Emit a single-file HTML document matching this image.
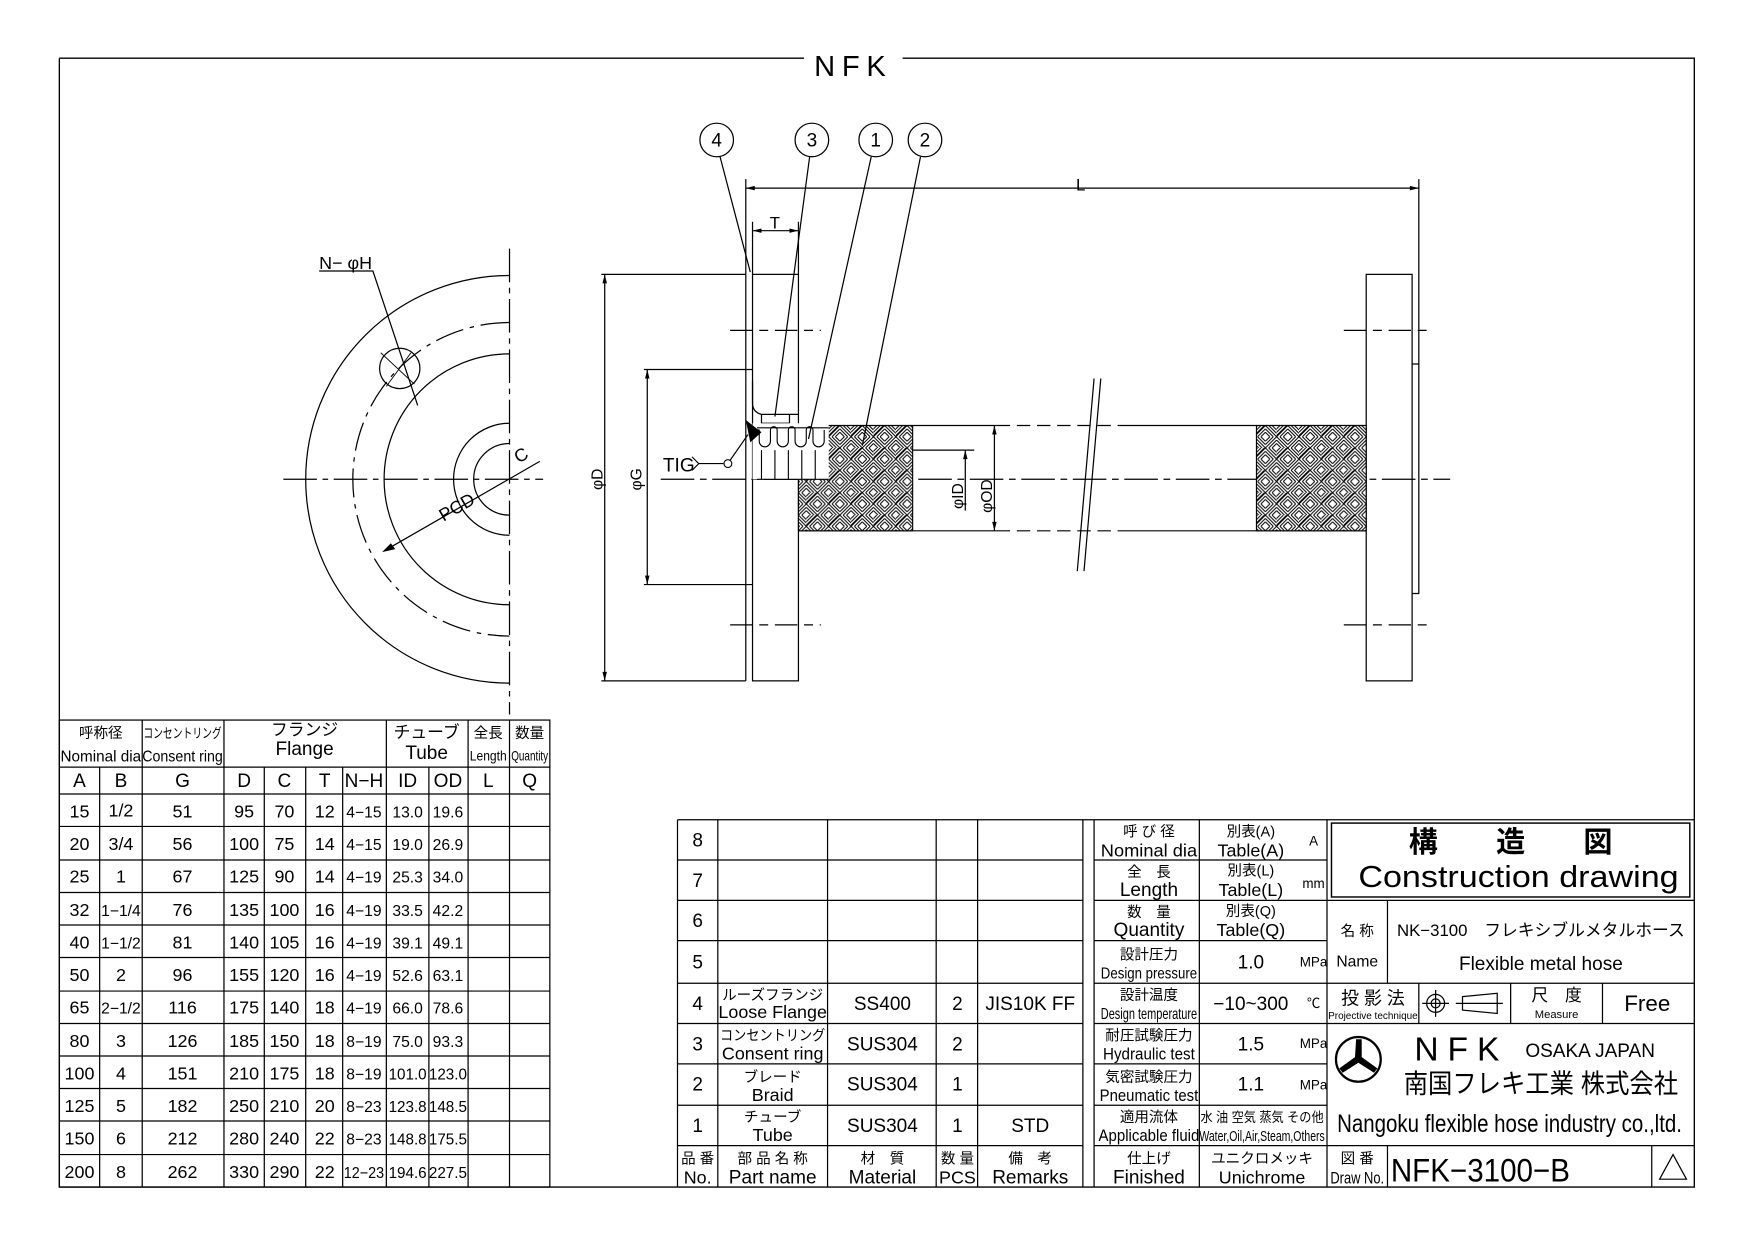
<!DOCTYPE html>
<html><head><meta charset="utf-8">
<style>
html,body{margin:0;padding:0;background:#fff;}
svg{display:block;}
text{font-family:"Liberation Sans Narrow","Liberation Sans","Noto Sans CJK JP",sans-serif;fill:#000;}
</style></head>
<body>
<svg width="1755" height="1240" viewBox="0 0 1567.2 1107.3" preserveAspectRatio="none" xmlns="http://www.w3.org/2000/svg">
<defs>
<pattern id="hb" width="20" height="20" patternUnits="userSpaceOnUse">
<rect width="20" height="20" fill="#fff"/>
<g stroke="#000" stroke-width="0.9">
<path d="M0,3 L3,0 M0,6 L6,0 M0,9 L9,0 M0,10 L10,0 M3,10 L10,3 M6,10 L10,6"/>
<path d="M10,0 L20,10 M13,0 L20,7 M16,0 L20,4 M10,3 L17,10 M10,6 L14,10"/>
<path d="M0,10 L10,20 M3,10 L10,17 M6,10 L10,14 M0,13 L7,20 M0,16 L4,20"/>
<path d="M10,20 L20,10 M13,20 L20,13 M16,20 L20,16 M10,17 L17,10 M10,14 L14,10"/>
</g>
</pattern>
</defs>
<g fill="none" stroke="#000" stroke-width="1.2">
<path d="M53,52 H718 M806,52 H1513 V1060 H53 V52"/>
</g>
<text x="762" y="68" font-size="26" text-anchor="middle" letter-spacing="6">NFK</text>

<g fill="none" stroke="#000" stroke-width="1.1">
<path d="M455,246 A182,182 0 0 0 455,610"/>
<path d="M455,288 A140,140 0 0 0 455,568" stroke-dasharray="26,6,4,6"/>
<path d="M455,316 A112,112 0 0 0 455,540"/>
<path d="M455,378 A50,50 0 0 0 455,478"/>
<path d="M455,396 A32,32 0 0 0 455,460"/>
<circle cx="357" cy="329" r="18"/>
<path d="M455,222 V638" stroke-dasharray="30,5,5,5"/>
<path d="M253,428 H485" stroke-dasharray="30,5,5,5"/>
<path d="M285,242 H333 L373,362"/>
<path d="M343,492 L482,412"/>
<path d="M343,492 l9,-2 l-3,-4 z" fill="#000"/>
<path d="M340,315 l30,28 M345,345 l22,-30" stroke-width="0.8"/>
</g>
<text x="285" y="240" font-size="16">N− φH</text>
<text x="396" y="466" font-size="16" transform="rotate(-30 396 466)">PCD</text>
<text x="463" y="414" font-size="16" transform="rotate(-30 463 414)">C</text>

<g fill="none" stroke="#000" stroke-width="1.1">
<rect x="672" y="245" width="41" height="363"/>
<path d="M666,160 V608"/>
<path d="M666,330 H672 M666,522 H672"/>
<path d="M672,340 V360 Q672,368 680,370 H713 M680,370 V378 H705 M705,370 V378"/>
<path d="M537,245 H666 M537,608 H666 M540,245 V608"/>
<path d="M575,330 H666 M575,522 H666 M578,330 V522"/>
<path d="M672,198 V245 M713,198 V245 M672,206 H713"/>
<path d="M666,168 H1267 M1267,160 V325"/>
<path d="M652,295 H733 M652,558 H733 M1200,295 H1280 M1200,558 H1280" stroke-dasharray="20,6,8,6"/>
<path d="M713,380 H890 M713,474 H890 M1000,380 H1220 M1000,474 H1220"/>
<path d="M890,380 H1000 M890,474 H1000" stroke-dasharray="12,6"/>
<path d="M590,428 H1295" stroke-dasharray="30,5,6,5"/>
<path d="M735,402 H870"/>
<path d="M862,402 V456 M888,380 V474"/>
<path d="M977,338 L962,510 M983,338 L968,510"/>
<rect x="1220" y="245" width="41" height="363"/>
<path d="M1261,325 H1267 V530 H1261"/>
</g>
<g fill="#000">
<path d="M540,245 l-2,8 h4 z M540,608 l-2,-8 h4 z M578,330 l-2,8 h4 z M578,522 l-2,-8 h4 z"/>
<path d="M672,206 l8,-2 v4 z M713,206 l-8,-2 v4 z M666,168 l8,-2 v4 z M1267,168 l-8,-2 v4 z"/>
<path d="M862,402 l-2,8 h4 z M888,380 l-2,8 h4 z M888,474 l-2,-8 h4 z"/>
</g>
<path d="M740,380 H815 V474 H713 V428 Q722,405 740,380 Z" fill="url(#hb)" stroke="#000" stroke-width="1"/>
<rect x="1122" y="380" width="98" height="94" fill="url(#hb)" stroke="#000" stroke-width="1"/>
<rect x="672" y="378" width="68" height="50" fill="#fff"/>
<path d="M676,382 H740 M676,384 a5,5 0 0 1 2,0 v10 a5,5 0 0 0 10,0 v-10 a3,3 0 0 1 6,0 v10 a5,5 0 0 0 10,0 v-10 a3,3 0 0 1 6,0 v10 a5,5 0 0 0 10,0 v-10 a3,3 0 0 1 6,0 v10 a5,5 0 0 0 10,0 v-10 M676,428 H740 M680,402 V428 M692,402 V428 M704,402 V428 M716,402 V428 M728,402 V428" fill="none" stroke="#000" stroke-width="1"/>
<path d="M666,375 L680,386 L670,395 Z" fill="#000"/>
<g fill="none" stroke="#000" stroke-width="1">
<path d="M618,408 L624,414 L618,420 M624,414 H646"/>
<circle cx="650" cy="414" r="3.5"/>
<path d="M652,411 L668,388"/>
</g>
<text x="592" y="421" font-size="17">TIG</text>
<g fill="none" stroke="#000" stroke-width="1.1">
<circle cx="640" cy="125" r="15"/><circle cx="725" cy="125" r="15"/>
<circle cx="782" cy="125" r="15"/><circle cx="826" cy="125" r="15"/>
<path d="M643,140 L670,243 M723,140 L692,372 M778,140 L722,392 M822,140 L770,398"/>
</g>
<g font-size="17" text-anchor="middle">
<text x="640" y="131">4</text><text x="725" y="131">3</text><text x="782" y="131">1</text><text x="826" y="131">2</text>
</g>
<text x="692" y="204" font-size="15" text-anchor="middle">T</text>
<text x="965" y="170" font-size="15" text-anchor="middle">L</text>
<text x="538" y="428" font-size="14" text-anchor="middle" transform="rotate(-90 538 428)">φD</text>
<text x="573" y="428" font-size="14" text-anchor="middle" transform="rotate(-90 573 428)">φG</text>
<text x="860" y="443" font-size="14" text-anchor="middle" transform="rotate(-90 860 443)">φID</text>
<text x="886" y="443" font-size="14" text-anchor="middle" transform="rotate(-90 886 443)">φOD</text>

<g fill="none" stroke="#000" stroke-width="1.1">
<rect x="53" y="643" width="438" height="417"/>
<path d="M53,685 H491 M53,709 H491 M53,738 H491 M53,768 H491 M53,797 H491 M53,826 H491 M53,855 H491 M53,885 H491 M53,914 H491 M53,943 H491 M53,972 H491 M53,1001 H491 M53,1031 H491"/>
<path d="M89,685 V1060 M127,643 V1060 M200,643 V1060 M236,685 V1060 M273,685 V1060 M306,685 V1060 M345,643 V1060 M383,685 V1060 M418,643 V1060 M455,643 V1060"/>
</g>
<g text-anchor="middle">
<text x="90" y="659" font-size="13">呼称径</text>
<text x="90" y="680" font-size="14" textLength="72" lengthAdjust="spacingAndGlyphs">Nominal dia</text>
<text x="163" y="659" font-size="12" textLength="70" lengthAdjust="spacingAndGlyphs">コンセントリング</text>
<text x="163" y="680" font-size="14" textLength="72" lengthAdjust="spacingAndGlyphs">Consent ring</text>
<text x="272" y="657" font-size="15">フランジ</text>
<text x="272" y="674" font-size="17">Flange</text>
<text x="381" y="659" font-size="15">チューブ</text>
<text x="381" y="678" font-size="17">Tube</text>
<text x="436" y="659" font-size="13">全長</text>
<text x="436" y="679" font-size="12" textLength="33" lengthAdjust="spacingAndGlyphs">Length</text>
<text x="473" y="659" font-size="13">数量</text>
<text x="473" y="679" font-size="12" textLength="33" lengthAdjust="spacingAndGlyphs">Quantity</text>
</g>
<g text-anchor="middle" font-size="17">
<text x="71" y="703">A</text><text x="108" y="703">B</text><text x="163" y="703">G</text><text x="218" y="703">D</text><text x="254" y="703">C</text><text x="290" y="703">T</text><text x="325" y="703">N−H</text><text x="364" y="703">ID</text><text x="400" y="703">OD</text><text x="436" y="703">L</text><text x="473" y="703">Q</text>
</g>
<g text-anchor="middle" font-size="16">
<text x="71" y="730">15</text><text x="108" y="729">1/2</text><text x="163" y="730">51</text><text x="218" y="730">95</text><text x="254" y="730">70</text><text x="290" y="730">12</text><text x="325" y="730" font-size="14">4−15</text><text x="364" y="730" font-size="14">13.0</text><text x="400" y="730" font-size="14">19.6</text>
<text x="71" y="759">20</text><text x="108" y="759">3/4</text><text x="163" y="759">56</text><text x="218" y="759">100</text><text x="254" y="759">75</text><text x="290" y="759">14</text><text x="325" y="759" font-size="14">4−15</text><text x="364" y="759" font-size="14">19.0</text><text x="400" y="759" font-size="14">26.9</text>
<text x="71" y="788">25</text><text x="108" y="788">1</text><text x="163" y="788">67</text><text x="218" y="788">125</text><text x="254" y="788">90</text><text x="290" y="788">14</text><text x="325" y="788" font-size="14">4−19</text><text x="364" y="788" font-size="14">25.3</text><text x="400" y="788" font-size="14">34.0</text>
<text x="71" y="818">32</text><text x="108" y="818" font-size="14">1−1/4</text><text x="163" y="818">76</text><text x="218" y="818">135</text><text x="254" y="818">100</text><text x="290" y="818">16</text><text x="325" y="818" font-size="14">4−19</text><text x="364" y="818" font-size="14">33.5</text><text x="400" y="818" font-size="14">42.2</text>
<text x="71" y="847">40</text><text x="108" y="847" font-size="14">1−1/2</text><text x="163" y="847">81</text><text x="218" y="847">140</text><text x="254" y="847">105</text><text x="290" y="847">16</text><text x="325" y="847" font-size="14">4−19</text><text x="364" y="847" font-size="14">39.1</text><text x="400" y="847" font-size="14">49.1</text>
<text x="71" y="876">50</text><text x="108" y="876">2</text><text x="163" y="876">96</text><text x="218" y="876">155</text><text x="254" y="876">120</text><text x="290" y="876">16</text><text x="325" y="876" font-size="14">4−19</text><text x="364" y="876" font-size="14">52.6</text><text x="400" y="876" font-size="14">63.1</text>
<text x="71" y="905">65</text><text x="108" y="905" font-size="14">2−1/2</text><text x="163" y="905">116</text><text x="218" y="905">175</text><text x="254" y="905">140</text><text x="290" y="905">18</text><text x="325" y="905" font-size="14">4−19</text><text x="364" y="905" font-size="14">66.0</text><text x="400" y="905" font-size="14">78.6</text>
<text x="71" y="935">80</text><text x="108" y="935">3</text><text x="163" y="935">126</text><text x="218" y="935">185</text><text x="254" y="935">150</text><text x="290" y="935">18</text><text x="325" y="935" font-size="14">8−19</text><text x="364" y="935" font-size="14">75.0</text><text x="400" y="935" font-size="14">93.3</text>
<text x="71" y="964">100</text><text x="108" y="964">4</text><text x="163" y="964">151</text><text x="218" y="964">210</text><text x="254" y="964">175</text><text x="290" y="964">18</text><text x="325" y="964" font-size="14">8−19</text><text x="364" y="964" font-size="14" textLength="34" lengthAdjust="spacingAndGlyphs">101.0</text><text x="400" y="964" font-size="14" textLength="34" lengthAdjust="spacingAndGlyphs">123.0</text>
<text x="71" y="993">125</text><text x="108" y="993">5</text><text x="163" y="993">182</text><text x="218" y="993">250</text><text x="254" y="993">210</text><text x="290" y="993">20</text><text x="325" y="993" font-size="14">8−23</text><text x="364" y="993" font-size="14" textLength="34" lengthAdjust="spacingAndGlyphs">123.8</text><text x="400" y="993" font-size="14" textLength="34" lengthAdjust="spacingAndGlyphs">148.5</text>
<text x="71" y="1022">150</text><text x="108" y="1022">6</text><text x="163" y="1022">212</text><text x="218" y="1022">280</text><text x="254" y="1022">240</text><text x="290" y="1022">22</text><text x="325" y="1022" font-size="14">8−23</text><text x="364" y="1022" font-size="14" textLength="34" lengthAdjust="spacingAndGlyphs">148.8</text><text x="400" y="1022" font-size="14" textLength="34" lengthAdjust="spacingAndGlyphs">175.5</text>
<text x="71" y="1052">200</text><text x="108" y="1052">8</text><text x="163" y="1052">262</text><text x="218" y="1052">330</text><text x="254" y="1052">290</text><text x="290" y="1052">22</text><text x="325" y="1052" font-size="14" textLength="36" lengthAdjust="spacingAndGlyphs">12−23</text><text x="364" y="1052" font-size="14" textLength="34" lengthAdjust="spacingAndGlyphs">194.6</text><text x="400" y="1052" font-size="14" textLength="34" lengthAdjust="spacingAndGlyphs">227.5</text>
</g>

<g fill="none" stroke="#000" stroke-width="1.1">
<path d="M605,732 H1513 M605,732 V1060"/>
<path d="M605,768 H967 M605,804 H967 M605,840 H967 M605,878 H967 M605,914 H967 M605,950 H967 M605,987 H967 M605,1023 H967"/>
<path d="M641,732 V1060 M739,732 V1060 M836,732 V1060 M873,732 V1060 M967,732 V1060 M977,732 V1060"/>
<path d="M977,768 H1185 M977,804 H1185 M977,840 H1185 M977,878 H1185 M977,914 H1185 M977,950 H1185 M977,987 H1185 M977,1023 H1185"/>
<path d="M1071,732 V1060 M1185,732 V1060"/>
<rect x="1189" y="735" width="320" height="66" stroke-width="1.3"/>
<path d="M1185,804 H1513 M1185,878 H1513 M1185,914 H1513 M1185,1023 H1513"/>
<path d="M1239,804 V878 M1267,878 V914 M1349,878 V914 M1431,878 V914 M1239,1023 V1060 M1475,1023 V1060"/>
<path d="M1482,1053 L1494,1031 L1506,1053 Z"/>
<circle cx="1282" cy="896" r="8"/><circle cx="1282" cy="896" r="4"/>
<path d="M1270,896 H1294 M1282,884 V908 M1306,890 L1337,887 V905 L1306,902 Z M1300,896 H1342"/>
<circle cx="1213" cy="946" r="20" stroke-width="2"/>
</g>
<path d="M1211,928 h5 v16 l14,10 -3,4 -14,-9 -14,9 -3,-4 14,-10 z" fill="#000"/>
<g text-anchor="middle" font-size="17">
<text x="623" y="756">8</text><text x="623" y="792">7</text><text x="623" y="828">6</text><text x="623" y="865">5</text><text x="623" y="902">4</text><text x="623" y="938">3</text><text x="623" y="974">2</text><text x="623" y="1011">1</text>
<text x="690" y="893" font-size="13">ルーズフランジ</text><text x="690" y="909" font-size="16">Loose Flange</text>
<text x="690" y="929" font-size="13" textLength="94" lengthAdjust="spacingAndGlyphs">コンセントリング</text><text x="690" y="946" font-size="16">Consent ring</text>
<text x="690" y="966" font-size="13">ブレード</text><text x="690" y="983" font-size="16">Braid</text>
<text x="690" y="1002" font-size="13">チューブ</text><text x="690" y="1019" font-size="16">Tube</text>
<text x="788" y="902">SS400</text><text x="788" y="938">SUS304</text><text x="788" y="974">SUS304</text><text x="788" y="1011">SUS304</text>
<text x="855" y="902">2</text><text x="855" y="938">2</text><text x="855" y="974">1</text><text x="855" y="1011">1</text>
<text x="920" y="902">JIS10K FF</text><text x="920" y="1011">STD</text>
<text x="623" y="1039" font-size="13">品 番</text><text x="623" y="1057" font-size="16">No.</text>
<text x="690" y="1039" font-size="13">部 品 名 称</text><text x="690" y="1057" font-size="17">Part name</text>
<text x="788" y="1039" font-size="13">材　質</text><text x="788" y="1057" font-size="17">Material</text>
<text x="855" y="1039" font-size="13">数 量</text><text x="855" y="1057" font-size="16">PCS</text>
<text x="920" y="1039" font-size="13">備　考</text><text x="920" y="1057" font-size="17">Remarks</text>
</g>
<g text-anchor="middle">
<text x="1026" y="747" font-size="13">呼 び 径</text><text x="1026" y="765" font-size="16" textLength="86" lengthAdjust="spacingAndGlyphs">Nominal dia</text>
<text x="1026" y="783" font-size="13">全　長</text><text x="1026" y="800" font-size="17">Length</text>
<text x="1026" y="819" font-size="13">数　量</text><text x="1026" y="836" font-size="17">Quantity</text>
<text x="1026" y="857" font-size="13">設計圧力</text><text x="1026" y="874" font-size="14" textLength="86" lengthAdjust="spacingAndGlyphs">Design pressure</text>
<text x="1026" y="893" font-size="13">設計温度</text><text x="1026" y="910" font-size="14" textLength="86" lengthAdjust="spacingAndGlyphs">Design temperature</text>
<text x="1026" y="929" font-size="13">耐圧試験圧力</text><text x="1026" y="946" font-size="15" textLength="82" lengthAdjust="spacingAndGlyphs">Hydraulic test</text>
<text x="1026" y="966" font-size="13">気密試験圧力</text><text x="1026" y="983" font-size="15" textLength="88" lengthAdjust="spacingAndGlyphs">Pneumatic test</text>
<text x="1026" y="1002" font-size="13">適用流体</text><text x="1026" y="1019" font-size="15" textLength="90" lengthAdjust="spacingAndGlyphs">Applicable fluid</text>
<text x="1026" y="1039" font-size="13">仕上げ</text><text x="1026" y="1057" font-size="17">Finished</text>
<text x="1117" y="747" font-size="13">別表(A)</text><text x="1117" y="765" font-size="16">Table(A)</text>
<text x="1117" y="782" font-size="13">別表(L)</text><text x="1117" y="800" font-size="16">Table(L)</text>
<text x="1117" y="818" font-size="13">別表(Q)</text><text x="1117" y="836" font-size="16">Table(Q)</text>
<text x="1117" y="865" font-size="17">1.0</text>
<text x="1117" y="902" font-size="17">−10~300</text>
<text x="1117" y="938" font-size="17">1.5</text>
<text x="1117" y="974" font-size="17">1.1</text>
<text x="1127" y="1002" font-size="12" textLength="110" lengthAdjust="spacingAndGlyphs">水 油 空気 蒸気 その他</text><text x="1127" y="1019" font-size="13" textLength="112" lengthAdjust="spacingAndGlyphs">Water,Oil,Air,Steam,Others</text>
<text x="1127" y="1039" font-size="13">ユニクロメッキ</text><text x="1127" y="1057" font-size="16">Unichrome</text>
<text x="1173" y="755" font-size="12">A</text><text x="1173" y="793" font-size="12">mm</text>
<text x="1173" y="863" font-size="12">MPa</text><text x="1173" y="900" font-size="12">℃</text>
<text x="1173" y="936" font-size="12">MPa</text><text x="1173" y="973" font-size="12">MPa</text>
</g>
<g text-anchor="middle">
<text x="1349" y="761" font-size="26" font-weight="bold" font-family="'Noto Sans CJK JP',sans-serif">構　　造　　図</text>
<text x="1356" y="792" font-size="27" font-family="'Liberation Mono',monospace" textLength="286" lengthAdjust="spacingAndGlyphs">Construction drawing</text>
<text x="1212" y="836" font-size="13">名 称</text><text x="1212" y="863" font-size="14">Name</text>
<text x="1376" y="836" font-size="15">NK−3100　フレキシブルメタルホース</text>
<text x="1376" y="866" font-size="17">Flexible metal hose</text>
<text x="1226" y="897" font-size="16">投 影 法</text><text x="1226" y="910" font-size="9" textLength="80" lengthAdjust="spacingAndGlyphs">Projective technique</text>
<text x="1390" y="894" font-size="15">尺　度</text><text x="1390" y="909" font-size="10">Measure</text>
<text x="1471" y="903" font-size="20">Free</text>
<text x="1305" y="947" font-size="30" letter-spacing="8">NFK</text>
<text x="1420" y="944" font-size="17">OSAKA JAPAN</text>
<text x="1376" y="976" font-size="24" font-family="'Noto Sans CJK JP',sans-serif" textLength="245" lengthAdjust="spacingAndGlyphs">南国フレキ工業 株式会社</text>
<text x="1348" y="1011" font-size="22" textLength="308" lengthAdjust="spacingAndGlyphs">Nangoku flexible hose industry co.,ltd.</text>
<text x="1212" y="1039" font-size="13">図 番</text><text x="1212" y="1057" font-size="15" textLength="48" lengthAdjust="spacingAndGlyphs">Draw No.</text>
<text x="1322" y="1055" font-size="29" textLength="160" lengthAdjust="spacingAndGlyphs">NFK−3100−B</text>
</g>
</svg>
</body></html>
